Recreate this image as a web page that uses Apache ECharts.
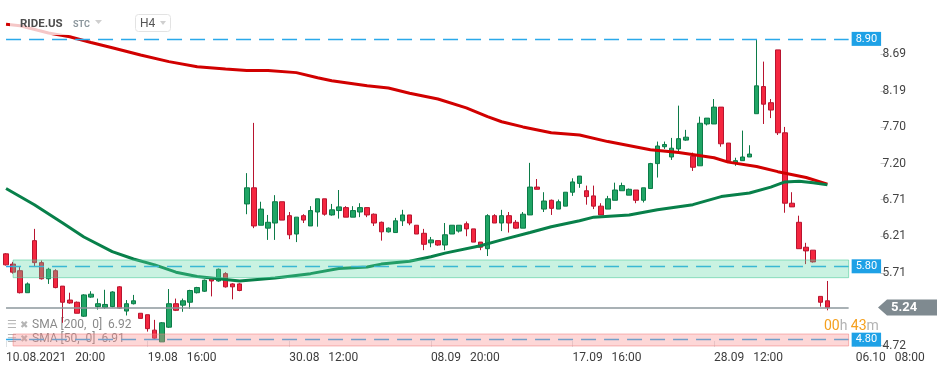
<!DOCTYPE html>
<html><head><meta charset="utf-8">
<script src="https://cdn.jsdelivr.net/npm/echarts@6/dist/echarts.min.js"></script>
<style>html,body{margin:0;padding:0;background:#fff}#c{width:950px;height:371px}</style>
</head><body><div id="c"></div>
<script>
// ---- categories (trading sessions, H4) ----
const firstSlot = '10.08.2021 20:00';
const tradingDays = ['11.08','12.08','13.08','16.08','17.08','18.08','19.08','20.08','23.08','24.08','25.08','26.08','27.08',
  '30.08','31.08','01.09','02.09','03.09','07.09','08.09','09.09','10.09','13.09','14.09','15.09','16.09','17.09',
  '20.09','21.09','22.09','23.09','24.09','27.09','28.09','29.09','30.09','01.10','04.10','05.10'];
const sessionHours = ['12:00','16:00','20:00'];
const futureSlots = ['06.10 00:00','06.10 04:00','06.10 08:00','06.10 12:00','06.10 16:00','06.10 20:00'];

// ---- candles: open, close, low, high ----
const opens  = [5.97,5.83,5.74,5.44,6.15,5.85,5.63,5.74,5.53,5.34,5.31,5.12,5.38,5.25,5.24,5.25,5.52,5.19,5.29,5.16,
  5.14,4.93,4.77,4.97,5.29,5.27,5.31,5.44,5.46,5.64,5.60,5.70,5.56,5.56,6.65,6.87,6.36,6.32,6.39,6.68,
  6.49,6.24,6.49,6.35,6.54,6.72,6.50,6.56,6.60,6.47,6.54,6.60,6.51,6.40,6.27,6.26,6.42,6.50,6.36,6.25,
  6.12,6.15,6.09,6.24,6.28,6.38,6.31,6.13,6.04,6.49,6.39,6.49,6.40,6.32,6.50,6.88,6.58,6.70,6.58,6.62,
  6.81,6.93,6.83,6.76,6.62,6.58,6.70,6.83,6.77,6.84,6.70,6.86,7.20,7.43,7.29,7.40,7.52,7.30,7.17,7.74,
  7.74,7.97,7.48,7.21,7.24,7.29,7.88,8.25,8.03,8.75,7.62,6.66,6.40,6.06,6.02,5.39,5.33];
const closes = [5.82,5.72,5.44,5.56,5.85,5.63,5.76,5.51,5.31,5.30,5.16,5.41,5.42,5.29,5.28,5.45,5.23,5.29,5.33,5.09,
  4.95,4.82,5.03,5.29,5.20,5.33,5.47,5.51,5.61,5.60,5.76,5.52,5.52,5.47,6.87,6.35,6.58,6.40,6.68,6.43,
  6.23,6.47,6.43,6.56,6.72,6.51,6.57,6.61,6.47,6.56,6.60,6.50,6.39,6.27,6.32,6.42,6.50,6.39,6.24,6.10,
  6.16,6.09,6.23,6.36,6.36,6.31,6.13,6.06,6.49,6.39,6.49,6.39,6.32,6.51,6.88,6.85,6.69,6.59,6.68,6.81,
  6.95,7.03,6.75,6.62,6.50,6.72,6.84,6.90,6.85,6.70,6.87,7.20,7.44,7.46,7.41,7.54,7.56,7.15,7.75,7.82,
  7.97,7.47,7.24,7.24,7.29,7.33,8.26,8.01,7.93,7.62,6.66,6.61,6.04,6.01,5.86,5.31,5.24];
const lows   = [5.81,5.70,5.43,5.44,5.79,5.62,5.56,5.50,5.03,5.29,5.16,5.11,5.37,5.21,5.22,5.24,5.22,5.13,5.28,5.09,
  4.91,4.80,4.77,4.96,5.19,5.18,5.22,5.43,5.45,5.39,5.59,5.51,5.35,5.46,6.51,6.32,6.36,6.16,6.16,6.43,
  6.17,6.13,6.39,6.35,6.34,6.49,6.49,6.45,6.47,6.47,6.47,6.47,6.35,6.15,6.26,6.26,6.35,6.36,6.24,6.02,
  6.06,6.08,6.02,6.24,6.26,6.21,6.13,6.02,5.94,6.39,6.28,6.26,6.31,6.32,6.50,6.85,6.54,6.50,6.58,6.62,
  6.76,6.87,6.64,6.58,6.50,6.58,6.70,6.83,6.77,6.66,6.67,6.86,7.01,7.40,7.25,7.37,7.51,7.10,7.17,7.72,
  7.74,7.43,7.24,7.17,7.24,7.29,7.88,7.74,7.82,7.59,6.53,6.61,6.04,5.83,5.85,5.25,5.20];
const highs  = [5.98,5.86,5.79,5.58,6.31,5.88,5.78,5.76,5.53,5.44,5.32,5.42,5.46,5.36,5.48,5.46,5.53,5.34,5.41,5.16,
  5.14,5.07,5.04,5.49,5.36,5.36,5.48,5.52,5.62,5.65,5.77,5.72,5.57,5.57,7.07,7.755,6.68,6.50,6.77,6.68,
  6.54,6.47,6.51,6.62,6.72,6.72,6.65,6.84,6.62,6.62,6.66,6.60,6.52,6.41,6.33,6.46,6.57,6.50,6.36,6.31,
  6.20,6.15,6.39,6.36,6.36,6.41,6.31,6.13,6.51,6.51,6.57,6.54,6.43,6.54,7.21,6.99,6.81,6.71,6.71,6.81,
  7.00,7.03,6.90,6.90,6.66,6.76,6.94,6.94,6.86,6.84,6.87,7.21,7.50,7.50,7.55,7.99,7.66,7.35,7.84,7.82,
  8.08,7.97,7.48,7.28,7.65,7.45,8.89,8.59,8.08,8.75,7.70,6.81,6.49,6.12,6.02,5.39,5.60];

// ---- moving averages, read at [session index, value] ----
const sma200 = [[0,9.10],[2,9.08],[6,8.98],[9,8.93],[12,8.85],[15,8.78],[19,8.68],[23,8.59],[27,8.52],[31,8.49],
  [34,8.47],[37,8.47],[41,8.44],[44,8.37],[46,8.33],[51,8.26],[54,8.23],[57,8.16],[61,8.08],[65,7.96],[68,7.84],
  [70,7.77],[73,7.70],[77,7.62],[81,7.59],[85,7.50],[91,7.39],[95,7.35],[100,7.28],[102,7.22],[106,7.16],
  [109,7.09],[113,7.01],[116,6.92]];
const sma50 = [[0,6.86],[4,6.64],[8,6.39],[11,6.20],[15,6.00],[18,5.90],[21,5.82],[24,5.72],[27,5.66],[32,5.61],
  [33,5.60],[38,5.64],[43,5.70],[47,5.77],[51,5.79],[53,5.83],[57,5.87],[60,5.93],[62,5.98],[67,6.08],[70,6.16],
  [74,6.26],[77,6.34],[81,6.42],[83,6.47],[88,6.50],[92,6.57],[97,6.64],[101,6.75],[105,6.80],[108,6.88],
  [110,6.95],[112,6.96],[114,6.94],[116,6.91]];

// ---- levels & ticks ----
const levelHigh = 8.90, levelMid = 5.80, levelLow = 4.80;
const greenZone = [5.645, 5.886];
const redZone = [4.714, 4.877];
const lastPrice = 5.24;
const yTicks = [4.72, 5.71, 6.21, 6.71, 7.20, 7.70, 8.19, 8.69];
const smaLegend = ['SMA [200,  0]  6.92', 'SMA [50,  0]  6.91'];

const categories = [firstSlot];
tradingDays.forEach(d => sessionHours.forEach(h => categories.push(d + ' ' + h)));
futureSlots.forEach(s => categories.push(s));

const candles = opens.map((o, i) => [o, closes[i], lows[i], highs[i]]);

const chart = echarts.init(document.getElementById('c'), null, {renderer: 'canvas'});
const FONT = 'Roboto';
const blueLbl = {show: true, position: 'end', distance: 3, color: '#fff', backgroundColor: '#1ea1e6',
  padding: [2, 4, 1, 4], fontSize: 11, fontFamily: FONT};

chart.setOption({
  animation: false,
  grid: {left: 2.5, right: 69.5, top: 0, bottom: 24},
  xAxis: {
    type: 'category', data: categories, boundaryGap: true,
    axisLine: {show: false},
    axisTick: {show: true, inside: true, length: 6, alignWithLabel: true, interval: i => i % 20 === 0,
      lineStyle: {color: '#dde1e4'}},
    axisLabel: {interval: i => i % 20 === 0, align: 'left', margin: 5, color: '#3c3c3c', fontSize: 12,
      fontFamily: FONT, formatter: v => v.replace(' ', '   ')},
    splitLine: {show: false}
  },
  yAxis: {
    type: 'value', position: 'right', min: 4.70, max: 9.43, scale: true,
    axisLine: {show: false},
    splitLine: {show: false},
    axisTick: {show: true, length: 6, customValues: yTicks, lineStyle: {color: '#c8c8c8'}},
    axisLabel: {customValues: yTicks, margin: 2, color: '#444', fontSize: 12, fontFamily: FONT,
      formatter: v => v.toFixed(2)}
  },
  series: [
    {
      type: 'candlestick', data: candles, barWidth: 5, z: 2,
      itemStyle: {color: '#20a565', color0: '#f5263f', borderColor: '#0c7b48', borderColor0: '#b8142f', borderWidth: 1}
    },
    {type: 'line', data: sma200, showSymbol: false, z: 3, lineStyle: {color: '#d10000', width: 3}, silent: true},
    {type: 'line', data: sma50, showSymbol: false, z: 3, lineStyle: {color: '#08804a', width: 3}, silent: true},
    {
      type: 'line', data: [], z: 5, silent: true,
      markLine: {
        symbol: 'none', silent: true, z: 6,
        data: [
          [{xAxis: 0, yAxis: levelHigh, lineStyle: {color: '#2aa9ea', type: [15, 8], width: 1.3},
            label: Object.assign({}, blueLbl, {formatter: levelHigh.toFixed(2)})}, {xAxis: 119, yAxis: levelHigh}],
          [{xAxis: 0, yAxis: levelMid, lineStyle: {color: '#2aa9ea', type: [15, 8], width: 1.3},
            label: Object.assign({}, blueLbl, {formatter: levelMid.toFixed(2)})}, {xAxis: 119, yAxis: levelMid}],
          [{xAxis: 0, yAxis: levelLow, lineStyle: {color: '#2aa9ea', type: [15, 8], width: 1.3},
            label: Object.assign({}, blueLbl, {formatter: levelLow.toFixed(2)})}, {xAxis: 119, yAxis: levelLow}],
          [{xAxis: 0, yAxis: lastPrice, lineStyle: {color: '#8d979c', type: 'solid', width: 1.5},
            label: {show: false}}, {xAxis: 119, yAxis: lastPrice}]
        ]
      },
      markArea: {
        silent: true, z: 10,
        data: [
          [{xAxis: 1, yAxis: greenZone[0], itemStyle: {color: 'rgba(90,215,165,0.33)', borderColor: 'rgba(70,200,150,0.55)', borderWidth: 1}},
           {xAxis: 119, yAxis: greenZone[1]}],
          [{xAxis: 1, yAxis: redZone[0], itemStyle: {color: 'rgba(250,140,140,0.35)', borderColor: 'rgba(240,120,120,0.5)', borderWidth: 1}},
           {xAxis: 119, yAxis: redZone[1]}]
        ]
      }
    }
  ]
});

const yLast = chart.convertToPixel({yAxisIndex: 0}, lastPrice);
const legendEls = smaLegend.map((t, k) => ({
  type: 'group', z: 1, x: 7, y: 325 + k * 14,
  children: [
    {type: 'text', style: {text: '☰', x: 0, y: 0, fill: '#b5b5b5', fontSize: 11, verticalAlign: 'middle', fontFamily: 'DejaVu Sans'}},
    {type: 'text', style: {text: '✖', x: 13, y: 0, fill: '#b5b5b5', fontSize: 10, verticalAlign: 'middle', fontFamily: 'DejaVu Sans'}},
    {type: 'text', style: {text: t, x: 25, y: 0, fill: '#8a8a8a', fontSize: 12, verticalAlign: 'middle', fontFamily: FONT}}
  ]
}));
chart.setOption({
  graphic: [
    {type: 'rect', z: 100, shape: {x: 10, y: 0, width: 168, height: 35}, style: {fill: 'rgba(255,255,255,0.78)'}},
    {type: 'text', z: 101, style: {text: 'RIDE.US', x: 20, y: 24, fill: '#4d4d4d', fontSize: 11.5, fontWeight: 'bold', fontFamily: FONT, verticalAlign: 'middle'}},
    {type: 'text', z: 101, style: {text: 'STC', x: 73, y: 25, fill: '#8c979d', fontSize: 9, fontWeight: 'bold', fontFamily: FONT, verticalAlign: 'middle'}},
    {type: 'polygon', z: 101, shape: {points: [[95, 20], [102, 20], [98.5, 24]]}, style: {fill: '#cfcfcf'}},
    {type: 'rect', z: 101, shape: {x: 135.5, y: 14.5, width: 35, height: 17, r: 3}, style: {fill: '#fff', stroke: '#e3e3e3', lineWidth: 1}},
    {type: 'text', z: 102, style: {text: 'H4', x: 140, y: 23.5, fill: '#555', fontSize: 12, fontFamily: FONT, verticalAlign: 'middle'}},
    {type: 'polygon', z: 102, shape: {points: [[160, 21], [166, 21], [163, 25]]}, style: {fill: '#cfcfcf'}},
    ...legendEls,
    {type: 'polygon', z: 50, shape: {points: [[878, yLast], [887, yLast - 8], [937, yLast - 8], [937, yLast + 8], [887, yLast + 8]]},
      style: {fill: '#7f8a90'}},
    {type: 'text', z: 51, style: {text: lastPrice.toFixed(2), x: 891, y: yLast, fill: '#fff', fontSize: 13, fontWeight: 'bold', fontFamily: FONT, verticalAlign: 'middle'}},
    {type: 'text', z: 51, style: {text: '{o|00}{g|h} {o|43}{g|m}', x: 824, y: 326, verticalAlign: 'middle',
      rich: {o: {fill: '#f5a01e', fontSize: 14, fontFamily: FONT}, g: {fill: '#b3b3b3', fontSize: 14, fontFamily: FONT}}}}
  ]
});
</script>
</body></html>
